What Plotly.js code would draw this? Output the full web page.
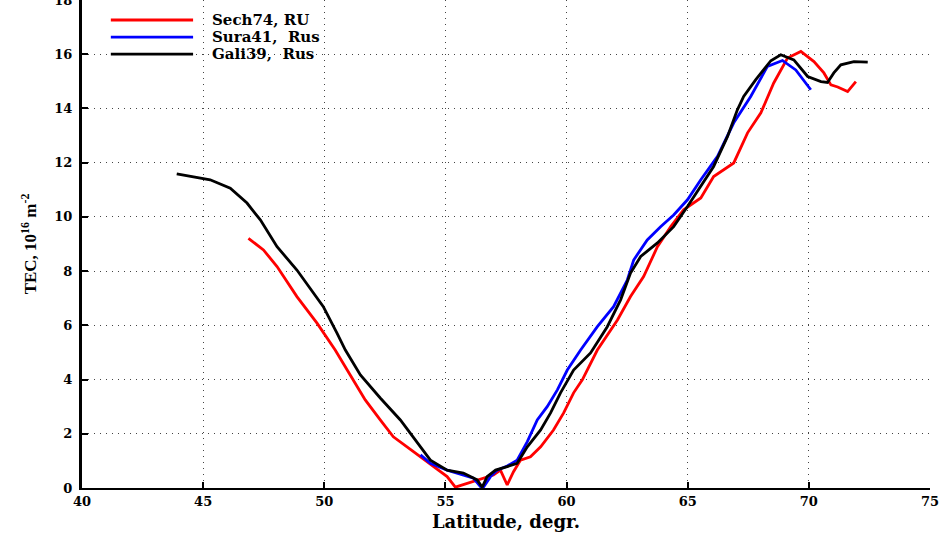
<!DOCTYPE html>
<html>
<head>
<meta charset="utf-8">
<script src="https://cdn.plot.ly/plotly-3.0.1.min.js"></script>
<style>html,body{margin:0;padding:0;background:#fff;}#chart{width:942px;height:533px;}</style>
</head>
<body>
<div id="chart"></div>
<script>
// TEC profiles along latitude for three receiving stations
const sechLat = [46.87,47.49,48.05,48.87,49.70,50.45,51.07,51.69,52.31,52.85,53.68,54.50,55.07,55.41,55.90,56.45,56.98,57.27,57.55,57.81,58.10,58.51,58.93,59.46,59.88,60.29,60.65,61.27,62.10,62.64,63.18,63.75,64.30,64.83,65.54,66.07,66.90,67.47,68.02,68.55,69.12,69.67,70.21,70.62,70.91,71.19,71.60,71.94];
const sechTec = [9.21,8.78,8.17,7.06,6.08,5.09,4.17,3.25,2.51,1.89,1.34,0.79,0.42,0.03,0.17,0.30,0.48,0.66,0.11,0.60,1.03,1.15,1.52,2.14,2.77,3.51,3.99,5.09,6.20,7.06,7.80,8.90,9.64,10.26,10.70,11.49,11.99,13.10,13.84,14.94,15.86,16.10,15.73,15.31,14.87,14.79,14.62,14.99];

const suraLat = [53.97,54.38,55.07,55.74,56.16,56.45,56.57,56.86,57.14,57.55,57.96,58.38,58.79,59.20,59.62,60.03,60.58,61.27,61.94,62.51,62.77,63.33,63.88,64.42,64.99,65.54,66.23,66.90,67.60,68.29,68.91,69.46,70.08];
const suraTec = [1.22,0.91,0.66,0.48,0.36,0.05,0.03,0.42,0.66,0.81,1.03,1.71,2.51,3.00,3.62,4.35,5.09,5.95,6.69,7.68,8.41,9.15,9.64,10.07,10.63,11.37,12.23,13.47,14.44,15.55,15.77,15.42,14.69];

const galiLat = [43.91,45.29,46.12,46.81,47.36,48.05,48.87,49.96,50.52,50.87,51.49,52.31,53.14,53.97,54.38,55.07,55.74,56.31,56.52,56.72,57.07,57.55,57.96,58.38,58.93,59.34,59.75,60.29,60.99,61.68,62.23,62.64,63.06,63.75,64.42,64.99,65.54,66.07,66.64,67.05,67.31,67.81,68.43,68.84,69.38,69.95,70.50,70.77,71.03,71.32,71.86,72.43];
const galiTec = [11.59,11.37,11.06,10.51,9.89,8.90,8.04,6.69,5.72,5.09,4.17,3.32,2.51,1.52,1.03,0.66,0.55,0.30,0.03,0.42,0.66,0.79,0.91,1.52,2.14,2.77,3.51,4.35,4.98,5.95,6.94,7.93,8.54,9.04,9.64,10.38,11.12,11.86,12.96,13.95,14.44,15.06,15.76,15.98,15.79,15.18,14.99,14.96,15.31,15.61,15.73,15.71];

const seriesNames = ['Sech74, RU', 'Sura41,  Rus', 'Gali39,  Rus'];
const seriesColors = ['#ff0000', '#0000ff', '#000000'];

const xs = [sechLat, suraLat, galiLat];
const ys = [sechTec, suraTec, galiTec];

const traces = xs.map((x, i) => ({
  x: x, y: ys[i], type: 'scatter', mode: 'lines', name: seriesNames[i],
  line: {color: seriesColors[i], width: 2.8}, showlegend: false
}));

const wideFont = 'DejaVu Serif, serif';
const tickFont = {family: wideFont, size: 13, color: '#000', weight: 'bold'};

// legend drawn as short line samples with labels in the upper-left corner
const legendY = [0.959, 0.924, 0.889];
const shapes = legendY.map((y, i) => ({
  type: 'line', xref: 'paper', yref: 'paper', x0: 0.034, x1: 0.131, y0: y, y1: y,
  line: {color: seriesColors[i], width: 2.8}
}));
const annotations = legendY.map((y, i) => ({
  xref: 'paper', yref: 'paper', x: 0.151, y: y, xanchor: 'left', yanchor: 'middle',
  text: seriesNames[i].replace(/ /g, '&nbsp;'), showarrow: false,
  font: {family: wideFont, size: 15, color: '#000', weight: 'bold'}
}));

const gridDots = '1px,5px';

const layout = {
  width: 942, height: 533,
  margin: {l: 82, r: 12, t: 0, b: 45},
  paper_bgcolor: '#fff', plot_bgcolor: '#fff',
  xaxis: {
    range: [40, 75], dtick: 5, tick0: 40,
    showline: true, linecolor: '#000', linewidth: 2, mirror: false,
    ticks: 'inside', ticklen: 6, tickwidth: 2, tickcolor: '#000',
    showgrid: true, gridcolor: '#444', griddash: gridDots, gridwidth: 1.2,
    zeroline: false, tickfont: tickFont,
    title: {text: 'Latitude, degr.', standoff: 8,
            font: {family: wideFont, size: 18, color: '#000', weight: 'bold'}}
  },
  yaxis: {
    range: [0, 18], dtick: 2, tick0: 0,
    showline: true, linecolor: '#000', linewidth: 3, mirror: false,
    ticks: 'inside', ticklen: 6, tickwidth: 2, tickcolor: '#000',
    showgrid: true, gridcolor: '#444', griddash: gridDots, gridwidth: 1.2,
    zeroline: false, tickfont: tickFont, ticklabelstandoff: 4,
    ticklabeloverflow: 'allow',
    title: {text: 'TEC, 10<sup>16</sup> m<sup>-2</sup>', standoff: 14,
            font: {family: 'Liberation Serif, Times New Roman, serif', size: 17, color: '#000', weight: 'bold'}}
  },
  shapes: shapes,
  annotations: annotations
};

Plotly.newPlot('chart', traces, layout, {displayModeBar: false, staticPlot: true});
</script>
</body>
</html>
